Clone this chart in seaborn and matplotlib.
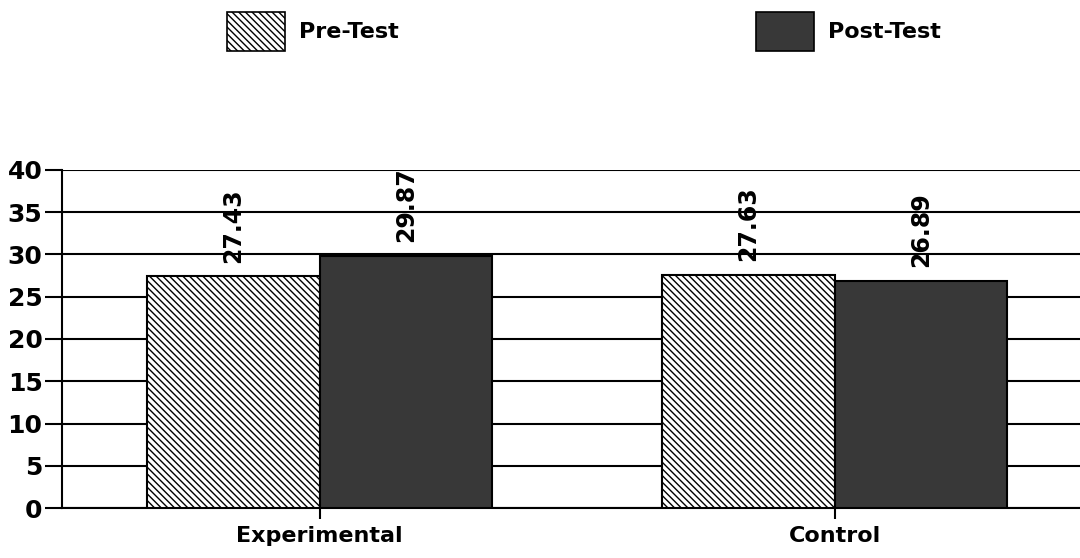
import matplotlib
matplotlib.use("Agg")
import matplotlib.pyplot as plt
import matplotlib.patches as mpatches
import seaborn as sns
import pandas as pd

groups = ["Experimental", "Control"]
tests = ["Pre-Test", "Post-Test"]
pre_scores = [27.43, 27.63]
post_scores = [29.87, 26.89]
y_ticks = [0, 5, 10, 15, 20, 25, 30, 35, 40]

df = pd.DataFrame({
    "group": groups * 2,
    "test": [tests[0]] * 2 + [tests[1]] * 2,
    "score": pre_scores + post_scores,
})

sns.set_theme(style="white")
plt.rcParams["font.family"] = ["DejaVu Sans"]
plt.rcParams["hatch.linewidth"] = 1.0
plt.rcParams["text.color"] = "black"
plt.rcParams["xtick.color"] = "black"
plt.rcParams["ytick.color"] = "black"

fig = plt.figure(figsize=(10.8, 5.58), dpi=100)
ax = fig.add_axes([62 / 1080, 1 - 508 / 558, (1092 - 62) / 1080, (508 - 170) / 558])

pre_face, post_face = "white", "#383838"
pre_hatch = "\\\\\\\\\\"
sns.barplot(data=df, x="group", y="score", hue="test", order=groups,
            hue_order=tests, palette=[pre_face, post_face], width=0.67,
            gap=0, edgecolor="black", linewidth=1.5, legend=False, ax=ax,
            zorder=3)

for container, test in zip(ax.containers, tests):
    for bar in container:
        if test == tests[0]:
            bar.set_hatch(pre_hatch)
        h = bar.get_height()
        ax.text(bar.get_x() + bar.get_width() / 2, h + 1.6, f"{h:.2f}",
                rotation=90, ha="center", va="bottom", fontsize=17,
                fontweight="bold", color="black", zorder=4)

ax.set_ylim(0, 40)
ax.set_xlim(-0.5, 1.5)
ax.set_yticks(y_ticks)
ax.yaxis.grid(True, color="black", linewidth=1.5, zorder=0)
ax.set_axisbelow(True)
for side in ["top", "right"]:
    ax.spines[side].set_visible(False)
for side in ["left", "bottom"]:
    ax.spines[side].set_color("black")
    ax.spines[side].set_linewidth(1.5)
ax.tick_params(axis="y", which="major", left=True, length=12, width=1.5,
               color="black", labelcolor="black", labelsize=18, pad=2)
ax.tick_params(axis="x", which="major", bottom=True, length=8, width=1.5,
               color="black", labelcolor="black", labelsize=16, pad=5)
for lbl in ax.get_yticklabels() + ax.get_xticklabels():
    lbl.set_fontweight("bold")
ax.set_xlabel("")
ax.set_ylabel("")

# Legend entries spread across the top of the figure
legend_styles = {tests[0]: (pre_face, pre_hatch), tests[1]: (post_face, None)}
for test, x_anchor in zip(tests, [227 / 1080, 756 / 1080]):
    face, hatch = legend_styles[test]
    handle = mpatches.Patch(facecolor=face, edgecolor="black", hatch=hatch,
                            linewidth=1.2, label=test)
    fig.legend(handles=[handle], loc="upper left",
               bbox_to_anchor=(x_anchor, 1 - 12 / 558), frameon=False,
               handlelength=2.6, handleheight=2.3, handletextpad=0.65,
               prop={"size": 16, "weight": "bold"}, borderaxespad=0,
               borderpad=0, labelcolor="black")

fig.savefig("out.png", dpi=100)
